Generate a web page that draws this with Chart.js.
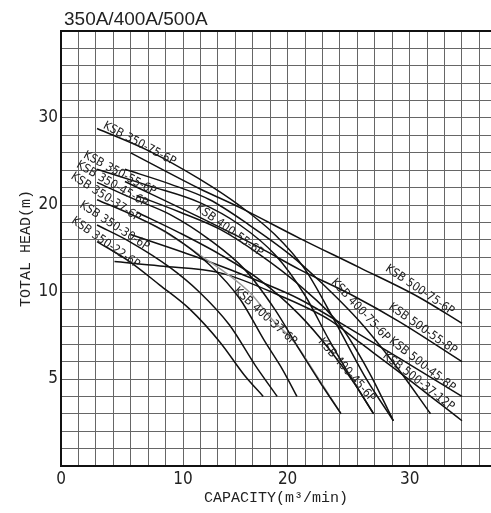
<!DOCTYPE html>
<html>
<head>
<meta charset="utf-8">
<script src="https://cdn.jsdelivr.net/npm/chart.js@4.4.0/dist/chart.umd.min.js"></script>
<style>
  html, body { margin: 0; padding: 0; background: #fff; }
  canvas { display: block; }
</style>
</head>
<body>
<canvas id="chart" width="491" height="513"></canvas>
<script>
// capacity (m3/min) / total head (m)
const q350_75 = [3.1, 7.6, 11.9, 15.4, 18.4, 21.0, 23.5, 26.1, 28.6];
const h350_75 = [28.8, 26.2, 23.0, 19.9, 16.6, 12.6, 8.4, 5.2, 2.6];
const q350_55 = [3.1, 7.6, 11.9, 15.4, 18.4, 21.0, 23.1, 25.3, 26.9];
const h350_55 = [24.1, 22.2, 20.3, 17.7, 14.3, 9.8, 7.2, 4.7, 3.0];
const q350_45 = [3.1, 5.9, 9.4, 12.8, 15.8, 18.4, 20.5, 22.4, 24.1];
const h350_45 = [22.6, 20.9, 18.9, 16.0, 12.6, 9.0, 6.7, 4.7, 3.0];
const q350_37 = [3.1, 5.9, 9.4, 12.8, 15.4, 17.5, 19.1, 20.3];
const h350_37 = [20.6, 19.0, 16.6, 13.1, 9.6, 7.2, 5.5, 4.0];
const q350_30 = [3.1, 5.9, 9.4, 11.9, 14.5, 16.7, 18.6];
const h350_30 = [17.7, 15.8, 12.8, 10.0, 8.1, 5.8, 4.0];
const q350_22 = [3.1, 5.9, 8.5, 11.1, 13.7, 15.8, 17.4];
const h350_22 = [15.8, 13.5, 10.8, 9.0, 7.1, 5.2, 4.0];

const q400_75 = [5.5, 9.4, 12.8, 16.2, 19.7, 22.3, 25.7, 29.1, 31.8];
const h400_75 = [24.1, 22.4, 20.6, 17.7, 14.3, 11.2, 8.3, 5.5, 3.0];
const q400_55 = [6.5, 10.2, 13.7, 17.1, 20.5, 24.0, 26.5, 28.6];
const h400_55 = [21.1, 19.2, 17.2, 14.3, 10.8, 8.1, 5.4, 2.6];
const q400_45 = [6.5, 10.2, 13.7, 17.1, 20.5, 23.1, 25.3, 26.9];
const h400_45 = [19.2, 16.8, 14.3, 11.4, 8.7, 6.7, 4.7, 3.0];
const q400_37 = [6.5, 8.2, 11.9, 16.2, 18.2, 20.1, 21.8, 24.1];
const h400_37 = [18.6, 17.5, 14.3, 10.0, 8.4, 7.1, 5.4, 3.0];

const q500_75 = [6.0, 11.9, 15.4, 20.5, 25.7, 30.8, 34.5];
const h500_75 = [26.0, 21.9, 19.7, 16.2, 12.8, 9.7, 8.2];
const q500_55 = [5.5, 11.9, 17.1, 20.5, 25.1, 29.1, 34.5];
const h500_55 = [22.7, 18.6, 15.1, 12.6, 9.8, 8.3, 6.0];
const q500_45 = [6.0, 11.9, 17.1, 20.5, 25.1, 29.1, 34.5];
const h500_45 = [16.6, 13.9, 11.2, 9.6, 7.8, 6.2, 4.0];
const q500_37 = [4.6, 8.5, 13.7, 18.8, 23.1, 25.7, 29.1, 34.5];
const h500_37 = [13.5, 13.0, 12.2, 9.8, 8.4, 7.1, 5.4, 2.6];

const xTickLabels = [0, 10, 20, 30];
const yTickLabels = [5, 10, 20, 30];

// name, data, and where its tag sits (q, h, angle in degrees)
const curves = [
  { name: 'KSB 350-75-6P', q: q350_75, h: h350_75, tag: [3.7, 29.2, 28] },
  { name: 'KSB 350-55-6P', q: q350_55, h: h350_55, tag: [2.0, 25.8, 28] },
  { name: 'KSB 350-45-6P', q: q350_45, h: h350_45, tag: [1.4, 24.7, 30] },
  { name: 'KSB 350-37-6P', q: q350_37, h: h350_37, tag: [0.95, 23.4, 33] },
  { name: 'KSB 350-30-6P', q: q350_30, h: h350_30, tag: [1.7, 20.1, 33] },
  { name: 'KSB 350-22-6P', q: q350_22, h: h350_22, tag: [1.0, 18.3, 35] },
  { name: 'KSB 400-75-6P', q: q400_75, h: h400_75, tag: [23.4, 11.3, 47] },
  { name: 'KSB 400-55-6P', q: q400_55, h: h400_55, tag: [11.7, 19.8, 36] },
  { name: 'KSB 400-45-6P', q: q400_45, h: h400_45, tag: [22.3, 7.25, 49] },
  { name: 'KSB 400-37-6P', q: q400_37, h: h400_37, tag: [15.0, 10.3, 42], gray: true },
  { name: 'KSB 500-75-6P', q: q500_75, h: h500_75, tag: [28.0, 12.8, 34] },
  { name: 'KSB 500-55-8P', q: q500_55, h: h500_55, tag: [28.3, 9.2, 35] },
  { name: 'KSB 500-45-8P', q: q500_45, h: h500_45, tag: [28.35, 7.25, 38] },
  { name: 'KSB 500-37-12P', q: q500_37, h: h500_37, tag: [27.8, 6.4, 38] }
];

// head axis: 1 m per cell up to 10 m, 2 m per cell above
class SplitHeadScale extends Chart.LinearScale {
  static id = 'splitHead';
  toCell(v) { return v <= 10 ? v : 10 + (v - 10) / 2; }
  fromCell(u) { return u <= 10 ? u : 10 + (u - 10) * 2; }
  getPixelForValue(value) {
    const a = this.toCell(this.min), b = this.toCell(this.max);
    return this.getPixelForDecimal((this.toCell(value) - a) / (b - a));
  }
  getValueForPixel(pixel) {
    const a = this.toCell(this.min), b = this.toCell(this.max);
    return this.fromCell(a + this.getDecimalForPixel(pixel) * (b - a));
  }
}
Chart.register(SplitHeadScale);

const tagPlugin = {
  id: 'curveTags',
  afterDatasetsDraw(chart) {
    const { ctx, scales: { x, y } } = chart;
    ctx.save();
    ctx.fillStyle = '#222';
    ctx.font = '12px "DejaVu Sans Condensed", "DejaVu Sans", sans-serif';
    ctx.textBaseline = 'middle';
    ctx.textAlign = 'left';
    curves.forEach(c => {
      ctx.save();
      ctx.translate(x.getPixelForValue(c.tag[0]), y.getPixelForValue(c.tag[1]));
      ctx.rotate(c.tag[2] * Math.PI / 180);
      ctx.fillText(c.name, 0, 0);
      ctx.restore();
    });
    ctx.font = '19px "Liberation Sans", Arial, sans-serif';
    ctx.textBaseline = 'alphabetic';
    ctx.fillText('350A/400A/500A', 64, 25);
    ctx.restore();
  }
};

const gridColor = c => (c.tick && c.tick.value === 40 ? '#111' : '#666');
const gridWidth = c => (c.tick && c.tick.value === 40 ? 2 : 1);
const tickFont = { family: '"Liberation Sans Narrow", "DejaVu Sans Condensed", sans-serif', size: 17 };
const titleFont = { family: '"Liberation Mono", "DejaVu Sans Mono", monospace', size: 15 };

new Chart(document.getElementById('chart'), {
  type: 'line',
  data: {
    datasets: curves.map(c => ({
      label: c.name,
      data: c.q.map((q, i) => ({ x: q, y: c.h[i] })),
      borderColor: c.gray ? '#9a9a9a' : '#111',
      borderWidth: 1.5,
      pointRadius: 0,
      cubicInterpolationMode: 'monotone',
      fill: false
    }))
  },
  options: {
    responsive: false,
    animation: false,
    layout: { padding: { top: 31, right: 0, left: 0, bottom: 0 } },
    plugins: { legend: { display: false }, tooltip: { enabled: false } },
    scales: {
      x: {
        type: 'linear',
        min: 0,
        max: 37,
        afterBuildTicks: s => {
          const t = [];
          for (let i = 0; i <= 24; i++) t.push({ value: i * 1.5 });
          s.ticks = t;
        },
        afterFit: s => { s.height = 47; },
        grid: { color: '#666', lineWidth: 1, drawTicks: false },
        border: { display: true, color: '#111', width: 2 },
        ticks: {
          autoSkip: false,
          maxRotation: 0,
          padding: 3,
          color: '#222',
          font: tickFont,
          callback: v => {
            const l = xTickLabels.find(t => Math.abs(t - v) < 0.76);
            return l === undefined ? '' : String(l);
          }
        },
        title: {
          display: true,
          text: 'CAPACITY(m³/min)',
          color: '#222',
          font: titleFont,
          padding: { top: 0, bottom: 6 }
        }
      },
      y: {
        type: 'splitHead',
        min: 0,
        max: 40,
        afterBuildTicks: s => {
          const t = [];
          for (let v = 0; v <= 10; v++) t.push({ value: v });
          for (let v = 12; v <= 40; v += 2) t.push({ value: v });
          s.ticks = t;
        },
        afterFit: s => { s.width = 61; },
        grid: { color: gridColor, lineWidth: gridWidth, drawTicks: false },
        border: { display: true, color: '#111', width: 2 },
        ticks: {
          autoSkip: false,
          padding: 3,
          color: '#222',
          font: tickFont,
          callback: v => (yTickLabels.includes(v) ? String(v) : '')
        },
        title: {
          display: true,
          text: 'TOTAL HEAD(m)',
          color: '#222',
          font: titleFont,
          padding: { top: 17, bottom: 0 }
        }
      }
    }
  },
  plugins: [tagPlugin]
});
</script>
</body>
</html>
